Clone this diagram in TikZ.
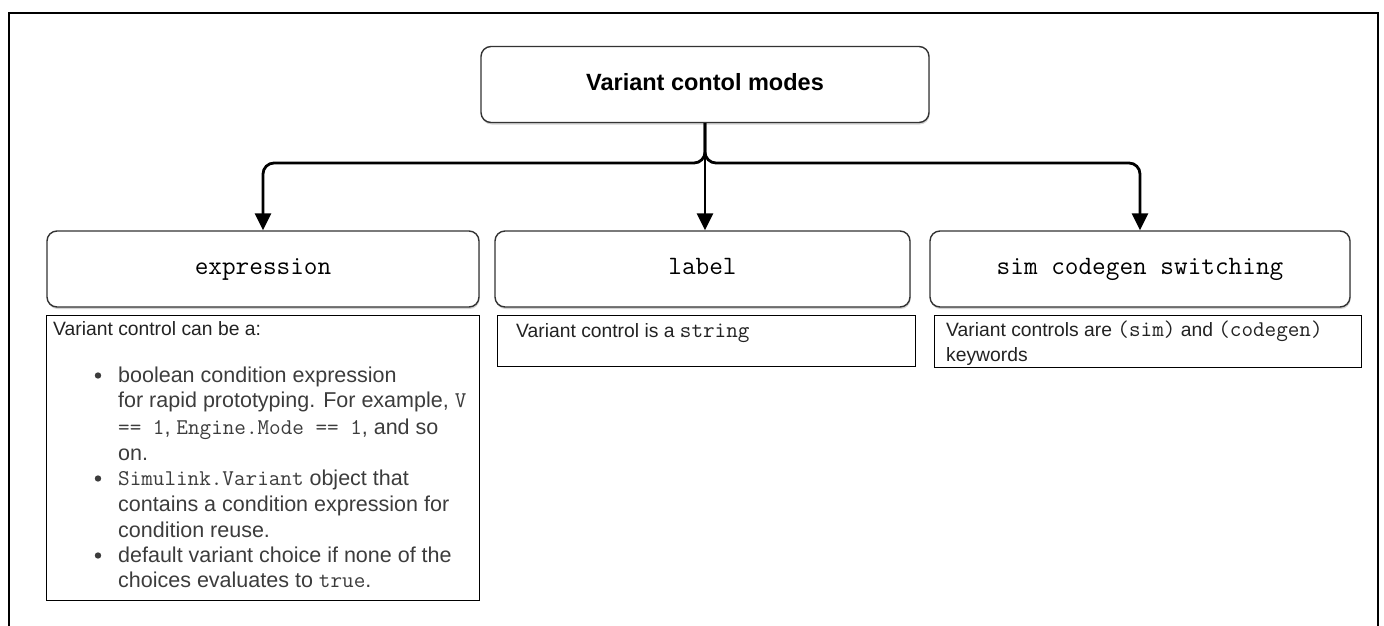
\documentclass[tikz,border=0pt]{standalone}
\usepackage{fontspec}
\setmainfont{Liberation Sans}
\usetikzlibrary{arrows.meta,shadows}
\definecolor{txtgray}{HTML}{3C3C3C}
\definecolor{txtdark}{HTML}{222222}
\definecolor{boxline}{HTML}{333333}
\newcommand{\codetxt}[1]{{\ttfamily\fontsize{22.5}{24}\selectfont #1}}

\begin{document}
\begin{tikzpicture}[x=1pt,y=-1pt,
  mode/.style={draw=boxline,line width=1.4pt,rounded corners=10pt,fill=white,
    drop shadow={shadow xshift=0.6pt,shadow yshift=-2pt,opacity=0.35},
    minimum height=76pt,inner sep=0pt,text height=16pt,text depth=5pt,
    font=\ttfamily\fontsize{26.5}{28}\selectfont},
  info/.style={draw=black,line width=1.4pt,inner sep=0pt,anchor=north west},
  conn/.style={line width=2.8pt,rounded corners=11pt,-{Triangle[width=16pt,length=17pt]}},
  body/.style={anchor=base west,inner sep=0pt,text=txtdark,font=\fontsize{19.3}{24}\selectfont},
  item/.style={anchor=base west,inner sep=0pt,text=txtgray,font=\fontsize{21.5}{26}\selectfont}]
  \useasboundingbox (0,0) rectangle (1384,626);
  \draw[line width=1.4pt] (9,626) -- (9,13) -- (1378,13) -- (1378,626);

  % modes
  \node[mode,minimum width=448pt,font=\bfseries\fontsize{23.5}{28}\selectfont] (modes) at (705,84.5) {Variant contol modes};
  \node[mode,minimum width=432pt] (expr) at (263,269) {expression};
  \node[mode,minimum width=415pt] (label) at (702.5,269) {label};
  \node[mode,minimum width=420pt] (sim) at (1140,269) {sim codegen switching};

  \coordinate (split) at (705,163);
  \draw[conn] (modes.south) -- (split) -| (expr.north);
  \draw[conn] (modes.south) -- (modes.south |- label.north);
  \draw[conn] (modes.south) -- (split) -| (sim.north);

  % descriptions
  \node[info,minimum width=433pt,minimum height=285pt] (exprinfo) at (46,315) {};
  \node[info,minimum width=418pt,minimum height=51pt] (labelinfo) at (497,315) {};
  \node[info,minimum width=427pt,minimum height=52pt] (siminfo) at (934,315) {};

  \node[body] (exprhead) at (53,335) {Variant control can be a:};
  \foreach \y/\txt in {382/{boolean condition expression},
      407/{for rapid prototyping. For example, \codetxt{V}},
      434/{\codetxt{==~1}, \codetxt{Engine.Mode ==~1}, and so},
      460/{on.},
      485/{\codetxt{Simulink.Variant} object that},
      511/{contains a condition expression for},
      537/{condition reuse.},
      562/{default variant choice if none of the},
      587/{choices evaluates to \codetxt{true}.}}
    \node[item] (line\y) at (118,\y) {\txt};
  \foreach \y in {382,485,562}
    \fill[txtgray] (98,\y-6.5) circle (3.2pt);

  \node[body] (labeltxt) at (516,337) {Variant control is a \codetxt{string}};
  \node[body] (simtxt) at (946,336) {Variant controls are \codetxt{(sim)} and \codetxt{(codegen)}};
  \node[body] (simtxt2) at (946,361) {keywords};
\end{tikzpicture}
\end{document}
